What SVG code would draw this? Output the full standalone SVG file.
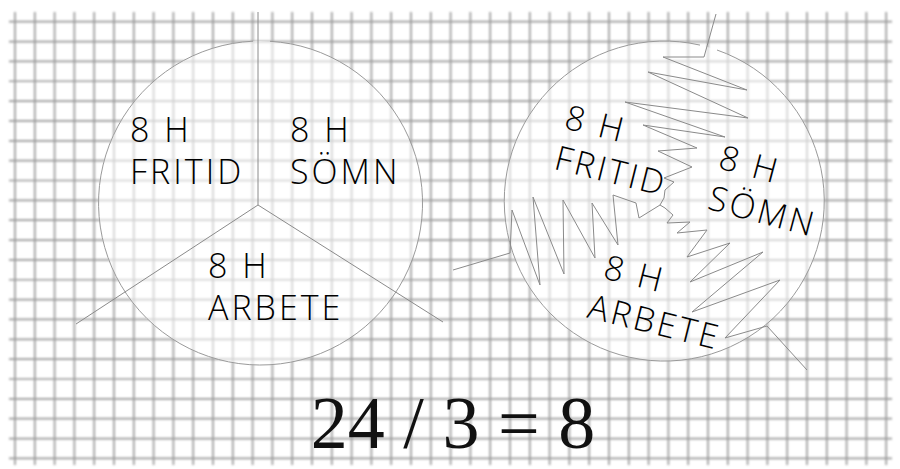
<svg xmlns="http://www.w3.org/2000/svg" width="900" height="469" viewBox="0 0 900 469">
<defs>
<filter id="blur" x="-5%" y="-5%" width="110%" height="110%"><feGaussianBlur stdDeviation="1.1"/></filter>
<style>
.grid{stroke:#9a9a9a;stroke-width:1.7;fill:none}
.disc{fill:#ffffff;fill-opacity:0.55;stroke:none}
.rim{fill:none;stroke:#9a9a9a;stroke-width:1}
.ln{fill:none;stroke:#8a8a8a;stroke-width:1;stroke-linejoin:miter}
.lbl{font-family:"Open Sans","Liberation Sans",sans-serif;font-weight:300;font-size:34px;fill:#000;letter-spacing:3px}
.eq{font-family:"Liberation Serif",serif;font-size:74px;fill:#111}
</style>
</defs>
<rect width="900" height="469" fill="#ffffff"/>
<g id="grid" filter="url(#blur)">
<path class="grid" d="M15,12V465M34.8,12V465M54.6,12V465M74.4,12V465M94.2,12V465M114,12V465M133.8,12V465M153.6,12V465M173.4,12V465M193.2,12V465M213,12V465M232.8,12V465M252.6,12V465M272.4,12V465M292.2,12V465M312,12V465M331.8,12V465M351.6,12V465M371.4,12V465M391.2,12V465M411,12V465M430.8,12V465M450.6,12V465M470.4,12V465M490.2,12V465M510,12V465M529.8,12V465M549.6,12V465M569.4,12V465M589.2,12V465M609,12V465M628.8,12V465M648.6,12V465M668.4,12V465M688.2,12V465M708,12V465M727.8,12V465M747.6,12V465M767.4,12V465M787.2,12V465M807,12V465M826.8,12V465M846.6,12V465M866.4,12V465M886.2,12V465"/>
<path class="grid" d="M9,21.7H892M9,41.55H892M9,61.4H892M9,81.25H892M9,101.1H892M9,120.95H892M9,140.8H892M9,160.65H892M9,180.5H892M9,200.35H892M9,220.2H892M9,240.05H892M9,259.9H892M9,279.75H892M9,299.6H892M9,319.45H892M9,339.3H892M9,359.15H892M9,379H892M9,398.85H892M9,418.7H892M9,438.55H892M9,458.4H892"/>
</g>
<g id="left-chart">
<circle class="disc" cx="260" cy="203" r="162"/>
<path class="rim" d="M270,41.3A162,162 0 1 1 253,41.2"/>
<path class="ln" d="M258,12V205M258,205L76,324M258,205L443,322"/>
<g id="left-fritid"><text class="lbl" x="130" y="142">8 H</text><text class="lbl" x="130" y="184">FRITID</text></g>
<g id="left-somn"><text class="lbl" x="290" y="142">8 H</text><text class="lbl" x="290" y="184">SÖMN</text></g>
<g id="left-arbete"><text class="lbl" x="208" y="278">8 H</text><text class="lbl" x="208" y="320">ARBETE</text></g>
</g>
<g id="right-chart">
<circle class="disc" cx="664" cy="201" r="160"/>
<path class="rim" d="M717,50A160,160 0 1 1 700,45.1"/>
<g id="connectors">
<polyline class="ln" points="716,14 704,57 663,57 747,90 648,72 748,118 625,102 725,137 643,125 697,148 658,151 692,167 664,178 674,182 665,190 664,198 660,205"/>
<polyline class="ln" points="453,270 510,253 512,210 540,285 533,197 564,274 563,200 595,258 592,203 618,245 613,195 636,203 639,218 660,205"/>
<polyline class="ln" points="660,205 665,208 673,215 667,223 690,222 677,233 707,230 687,257 730,243 690,282 763,252 692,312 780,280 725,338 767,326 807,370"/>
</g>
<g id="right-fritid" transform="rotate(14 563 128)"><text class="lbl" x="563" y="128">8 H</text><text class="lbl" x="563" y="170">FRITID</text></g>
<g id="right-somn" transform="rotate(15 717 168)"><text class="lbl" x="717" y="168">8 H</text><text class="lbl" x="717" y="210">SÖMN</text></g>
<g id="right-arbete" transform="rotate(14 602 278)"><text class="lbl" x="602" y="278">8 H</text><text class="lbl" x="596" y="320">ARBETE</text></g>
</g>
<g id="equation"><text class="eq" x="453" y="448" text-anchor="middle">24 / 3 = 8</text></g>
</svg>
